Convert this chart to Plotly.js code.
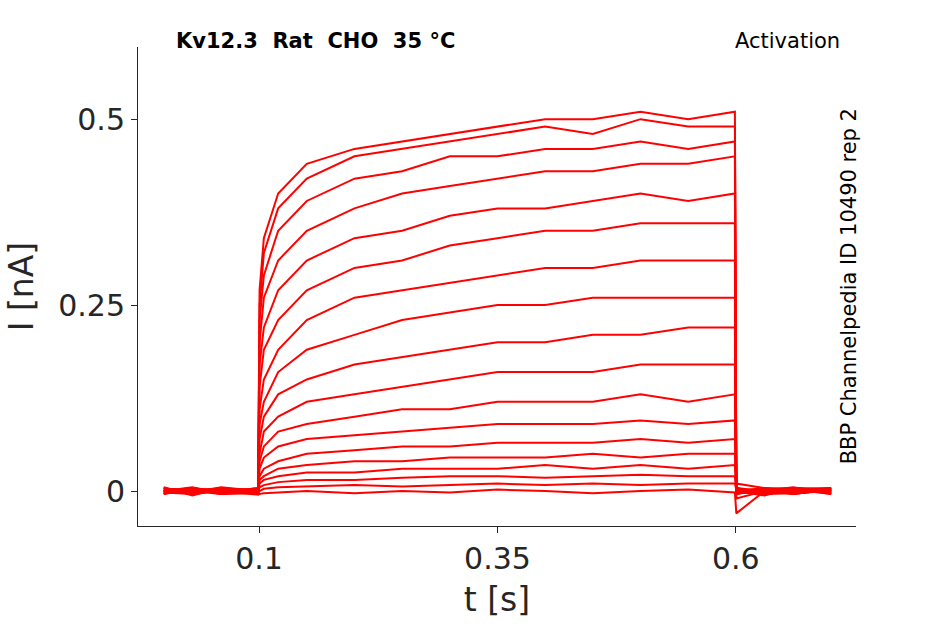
<!DOCTYPE html>
<html>
<head>
<meta charset="utf-8">
<script src="https://cdn.plot.ly/plotly-3.0.1.min.js"></script>
<style>body{margin:0;background:#fff}#chart{width:945px;height:624px}</style>
</head>
<body>
<div id="chart"></div>
<script>
// sample times (s), shared by every sweep
const times = [0.0, 0.03, 0.06, 0.099, 0.1005, 0.105, 0.12, 0.15, 0.2, 0.25, 0.3, 0.35, 0.4, 0.45, 0.5, 0.55, 0.599, 0.6005, 0.63, 0.66, 0.7];

// current sweeps (nA), top to bottom
const sweeps = [
  [0.005,-0.006,0.004,0.0,0.27,0.34,0.40,0.44,0.46,0.47,0.48,0.49,0.50,0.50,0.51,0.50,0.51,0.0,-0.006,0.004,0.0],
  [0.0,0.005,-0.004,0.003,0.25,0.32,0.38,0.42,0.45,0.46,0.47,0.48,0.49,0.48,0.50,0.49,0.49,0.01,0.004,-0.004,0.002],
  [-0.004,0.003,0.0,-0.005,0.23,0.29,0.35,0.39,0.42,0.43,0.45,0.45,0.46,0.46,0.47,0.46,0.47,-0.01,0.0,0.005,-0.003],
  [0.003,-0.003,0.005,0.0,0.20,0.26,0.31,0.35,0.38,0.40,0.41,0.42,0.43,0.43,0.44,0.44,0.45,0.004,-0.005,0.002,0.004],
  [0.0,0.004,-0.002,0.004,0.17,0.22,0.27,0.31,0.34,0.35,0.37,0.38,0.38,0.39,0.40,0.39,0.40,-0.004,0.003,-0.002,0.0],
  [-0.003,0.0,0.004,-0.004,0.14,0.19,0.23,0.27,0.30,0.31,0.33,0.34,0.35,0.35,0.36,0.36,0.36,0.002,0.0,0.004,-0.004],
  [0.004,-0.004,0.0,0.002,0.11,0.15,0.19,0.23,0.26,0.27,0.28,0.29,0.30,0.30,0.31,0.31,0.31,-0.003,0.004,-0.003,0.003],
  [0.0,0.003,-0.004,0.0,0.09,0.12,0.16,0.19,0.21,0.23,0.24,0.25,0.25,0.26,0.26,0.26,0.26,0.004,-0.003,0.0,-0.002],
  [-0.002,-0.004,0.003,-0.003,0.07,0.10,0.13,0.15,0.17,0.18,0.19,0.20,0.20,0.21,0.21,0.22,0.22,-0.002,0.002,0.004,0.003],
  [0.003,0.002,-0.003,0.004,0.05,0.08,0.10,0.12,0.13,0.14,0.15,0.16,0.16,0.16,0.17,0.17,0.17,0.003,-0.004,-0.003,0.0],
  [0.0,-0.003,0.004,-0.002,0.04,0.06,0.08,0.09,0.10,0.11,0.11,0.12,0.12,0.12,0.13,0.12,0.13,-0.004,0.003,0.002,-0.004],
  [-0.004,0.004,0.0,0.003,0.03,0.045,0.06,0.07,0.075,0.08,0.085,0.09,0.09,0.09,0.095,0.09,0.095,0.002,0.0,-0.004,0.002],
  [0.002,0.0,-0.004,-0.003,0.02,0.03,0.04,0.05,0.055,0.06,0.06,0.065,0.065,0.065,0.07,0.065,0.07,0.0,0.004,0.003,-0.003],
  [0.0,-0.002,0.003,0.002,0.015,0.02,0.03,0.035,0.04,0.04,0.045,0.045,0.045,0.05,0.045,0.05,0.05,-0.003,-0.002,0.0,0.004],
  [-0.003,0.003,0.0,-0.004,0.01,0.015,0.02,0.025,0.025,0.03,0.03,0.03,0.035,0.03,0.035,0.03,0.035,0.004,0.0,0.003,0.0],
  [0.004,-0.004,0.002,0.0,0.005,0.008,0.012,0.015,0.015,0.018,0.02,0.02,0.018,0.02,0.022,0.02,0.02,-0.002,0.003,-0.004,0.002],
  [0.0,0.002,-0.003,0.003,0.0,0.003,0.005,0.006,0.008,0.006,0.008,0.01,0.008,0.01,0.008,0.01,0.01,0.003,-0.003,0.002,-0.002],
  [-0.002,0.0,0.003,-0.002,-0.004,-0.003,-0.002,0.0,-0.003,0.0,-0.002,0.002,0.0,-0.003,0.0,0.002,-0.002,-0.03,0.0,-0.003,0.003]
];

const xTicks = [0.1, 0.35, 0.6];
const yTicks = [0, 0.25, 0.5];

const traces = sweeps.map(v => ({
  x: times, y: v, type: 'scatter', mode: 'lines',
  line: {color: '#ff0000', width: 2}, hoverinfo: 'skip'
}));

const font = {family: 'DejaVu Sans, sans-serif', color: '#262626'};

Plotly.newPlot('chart', traces, {
  width: 945, height: 624,
  margin: {l: 138, r: 89, t: 47, b: 98},
  showlegend: false,
  paper_bgcolor: '#fff', plot_bgcolor: '#fff',
  font: font,
  xaxis: {
    range: [-0.027, 0.726], tickvals: xTicks, ticktext: ['0.1', '0.35', '0.6'],
    showgrid: false, zeroline: false, showline: true, linecolor: '#262626',
    ticks: 'outside', ticklen: 6, tickcolor: '#262626', tickfont: {size: 30},
    title: {text: 't [s]', font: {size: 33}, standoff: 12}
  },
  yaxis: {
    range: [-0.047, 0.597], tickvals: yTicks, ticktext: ['0', '0.25', '0.5'],
    showgrid: false, zeroline: false, showline: true, linecolor: '#262626',
    ticks: 'outside', ticklen: 6, tickcolor: '#262626', tickfont: {size: 30},
    title: {text: 'I [nA]', font: {size: 33}, standoff: 14}
  },
  annotations: [
    {text: '<b>Kv12.3  Rat  CHO  35 °C</b>', xref: 'paper', yref: 'paper', x: 0.05, y: 1.0,
     xanchor: 'left', yanchor: 'bottom', yshift: -8, showarrow: false, font: {size: 21, color: '#000'}},
    {text: 'Activation', xref: 'paper', yref: 'paper', x: 0.98, y: 1.0,
     xanchor: 'right', yanchor: 'bottom', yshift: -8, showarrow: false, font: {size: 21, color: '#000'}},
    {text: 'BBP Channelpedia ID 10490 rep 2', xref: 'paper', yref: 'paper', x: 0.99, y: 0.5,
     xanchor: 'center', yanchor: 'middle', textangle: -90, showarrow: false, font: {size: 21, color: '#000'}}
  ]
}, {displayModeBar: false});
</script>
</body>
</html>
